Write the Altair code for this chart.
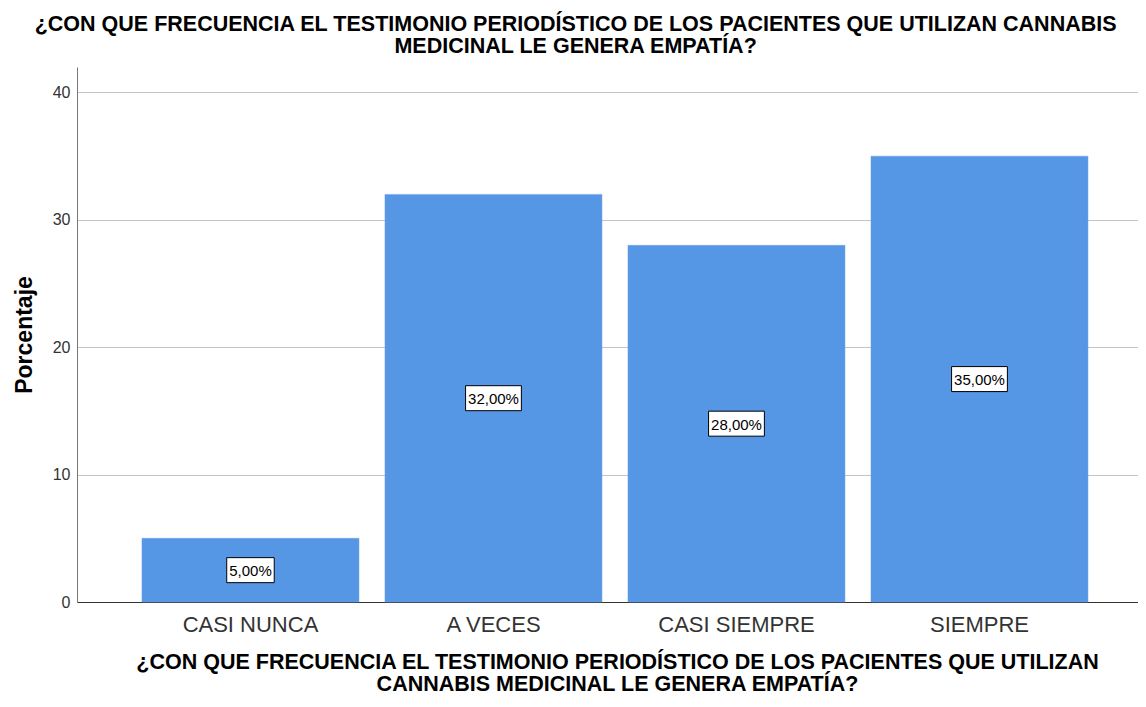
import altair as alt
import pandas as pd

categories = ["CASI NUNCA", "A VECES", "CASI SIEMPRE", "SIEMPRE"]
values = [5.0, 32.0, 28.0, 35.0]
labels = ["5,00%", "32,00%", "28,00%", "35,00%"]
title_lines = ["¿CON QUE FRECUENCIA EL TESTIMONIO PERIODÍSTICO DE LOS PACIENTES QUE UTILIZAN CANNABIS",
               "MEDICINAL LE GENERA EMPATÍA?"]
xtitle_lines = ["¿CON QUE FRECUENCIA EL TESTIMONIO PERIODÍSTICO DE LOS PACIENTES QUE UTILIZAN",
                "CANNABIS MEDICINAL LE GENERA EMPATÍA?"]

df = pd.DataFrame({"cat": categories, "pct": values, "label": labels})

FONT = "Liberation Sans, Arial"

xenc = alt.X(
    "cat:N", sort=categories,
    scale=alt.Scale(paddingInner=0.107, paddingOuter=0.2366, align=0.565),
    axis=alt.Axis(title=xtitle_lines, labelAngle=0, labelFont=FONT, labelFontSize=22,
                  labelColor="#333333", labelPadding=12, ticks=False,
                  domainColor="#333333", domainWidth=1,
                  titleFont=FONT, titleFontSize=21.5, titleFontWeight="bold",
                  titleColor="#000000", titlePadding=16, titleLineHeight=22, titleX=540),
)

bars = alt.Chart(df).mark_bar(color="#5596e5", stroke="#6aa3ea", strokeWidth=0.5).encode(
    x=xenc,
    y=alt.Y("pct:Q", scale=alt.Scale(domain=[0, 42], nice=False),
            axis=alt.Axis(title="Porcentaje", values=[0, 10, 20, 30, 40], ticks=False,
                          labelFont=FONT, labelFontSize=16, labelColor="#333333",
                          labelPadding=7,
                          grid=True, gridColor="#c4c4c4", gridWidth=1,
                          domainColor="#777777",
                          titleFont=FONT, titleFontSize=23, titleFontWeight="bold",
                          titleColor="#000000", titlePadding=16)),
)

label_base = alt.Chart(df).transform_calculate(
    mid="datum.pct / 2",
    hw="(8.3 * length(datum.label) + 6) / 2",
).transform_calculate(
    box="'M' + (-datum.hw) + ',-12.5H' + datum.hw + 'V12.5H' + (-datum.hw) + 'Z'"
)

boxes = label_base.mark_point(
    size=4, filled=True, fill="white", stroke="black", strokeWidth=1, opacity=1,
).encode(
    x=alt.X("cat:N", sort=categories),
    y=alt.Y("mid:Q"),
    shape=alt.Shape("box:N", scale=None, legend=None),
)

texts = label_base.mark_text(font=FONT, fontSize=15, color="black", dy=1).encode(
    x=alt.X("cat:N", sort=categories), y=alt.Y("mid:Q"), text="label:N"
)

chart = alt.layer(bars, boxes, texts).properties(
    width=1061, height=535,
    title=alt.TitleParams(text=title_lines, font=FONT, fontSize=21.5, fontWeight="bold",
                          color="#000000", anchor="middle", frame="bounds",
                          lineHeight=22, offset=10),
    autosize=alt.AutoSizeParams(type="none"),
    padding={"left": 69, "top": 59, "right": 0, "bottom": 97},
    background="white",
).configure_view(strokeWidth=0, stroke=None)

chart.save("out.html", embed_options={"renderer": "svg", "actions": False})
